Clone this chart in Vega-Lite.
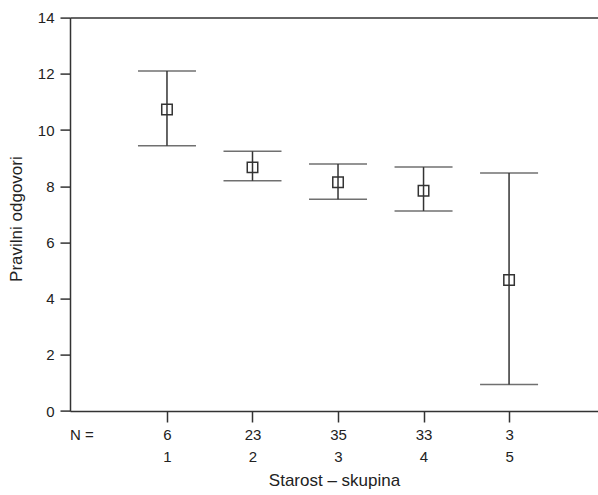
{
  "$schema": "https://vega.github.io/schema/vega-lite/v6.json",
  "autosize": {"type": "none"},
  "width": 528,
  "height": 393.4,
  "padding": {"left": 70, "top": 17.6, "right": 0, "bottom": 84},
  "background": "white",
  "config": {
    "view": {"stroke": null},
    "font": "Liberation Sans",
    "axis": {
      "grid": false,
      "domainColor": "#333333",
      "domainWidth": 1.5,
      "tickColor": "#333333",
      "tickWidth": 1.5,
      "tickSize": 10,
      "labelFont": "Liberation Sans",
      "labelFontSize": 15,
      "labelColor": "#222222",
      "titleFont": "Liberation Sans",
      "titleFontSize": 17,
      "titleFontWeight": "normal",
      "titleColor": "#222222"
    }
  },
  "data": {
    "values": [
      {"group": 1, "n": 6, "mean": 10.73, "lo": 9.44, "hi": 12.1},
      {"group": 2, "n": 23, "mean": 8.67, "lo": 8.19, "hi": 9.24},
      {"group": 3, "n": 35, "mean": 8.14, "lo": 7.54, "hi": 8.79},
      {"group": 4, "n": 33, "mean": 7.84, "lo": 7.12, "hi": 8.68},
      {"group": 5, "n": 3, "mean": 4.66, "lo": 0.94, "hi": 8.47}
    ]
  },
  "resolve": {"axis": {"x": "independent"}},
  "layer": [
    {
      "mark": {"type": "rule", "color": "#333333", "strokeWidth": 1.5},
      "encoding": {
        "x": {
          "field": "group",
          "type": "quantitative",
          "scale": {"domain": [-0.134, 6.04], "nice": false, "zero": false},
          "axis": {
            "orient": "bottom",
            "values": [0, 1, 2, 3, 4, 5],
            "title": "Starost – skupina",
            "titlePadding": 8,
            "tickSize": 11,
            "labelPadding": 5,
            "labelLineHeight": 22,
            "labelBaseline": "top",
            "labelFlush": false,
            "labelExpr": "datum.value == 0 ? ['N =', ''] : [['','6','23','35','33','3'][datum.value], datum.label]",
            "tickOpacity": {"condition": {"test": "datum.value == 0", "value": 0}, "value": 1}
          }
        },
        "y": {
          "field": "lo",
          "type": "quantitative",
          "scale": {"domain": [0, 14], "nice": false},
          "axis": {
            "values": [0, 2, 4, 6, 8, 10, 12, 14],
            "title": "Pravilni odgovori",
            "titlePadding": 12,
            "titleY": 201,
            "labelPadding": 6
          }
        },
        "y2": {"field": "hi"}
      }
    },
    {
      "mark": {"type": "tick", "orient": "horizontal", "size": 58, "thickness": 1.5, "color": "#333333"},
      "encoding": {
        "x": {"field": "group", "type": "quantitative", "axis": {"orient": "top", "labels": false, "ticks": false, "title": null, "domain": true}},
        "y": {"field": "lo", "type": "quantitative"}
      }
    },
    {
      "mark": {"type": "tick", "orient": "horizontal", "size": 58, "thickness": 1.5, "color": "#333333"},
      "encoding": {
        "x": {"field": "group", "type": "quantitative", "axis": null},
        "y": {"field": "hi", "type": "quantitative"}
      }
    },
    {
      "mark": {"type": "point", "shape": "square", "filled": false, "size": 110, "stroke": "#333333", "strokeWidth": 1.5, "opacity": 1},
      "encoding": {
        "x": {"field": "group", "type": "quantitative", "axis": null},
        "y": {"field": "mean", "type": "quantitative"}
      }
    }
  ]
}
